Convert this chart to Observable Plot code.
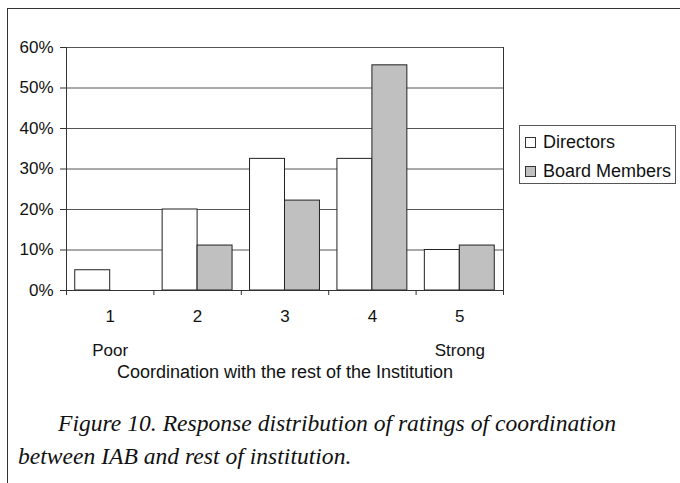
<!DOCTYPE html>
<html>
<head>
<meta charset="utf-8">
<script src="https://cdn.jsdelivr.net/npm/d3@7"></script>
<script src="https://cdn.jsdelivr.net/npm/@observablehq/plot@0.6"></script>
<style>
  html, body { margin: 0; padding: 0; background: #fff; }
  #wrap { position: relative; width: 680px; height: 483px; overflow: hidden; font-family: "Liberation Sans", Arial, sans-serif; color: #111; }
  #frame { position: absolute; left: 7px; top: 8px; width: 680px; height: 480px; border-left: 1px solid #333; border-top: 1px solid #333; }
  #chart { position: absolute; left: 0; top: 0; }
  #legend { position: absolute; left: 519px; top: 125px; width: 155px; height: 57px; border: 1px solid #555; background: #fff; font-size: 18px; }
  .row { position: absolute; left: 5px; height: 22px; line-height: 22px; white-space: nowrap; }
  .sw { display: inline-block; width: 9px; height: 9px; border: 1px solid #333; margin-right: 7px; vertical-align: 0px; }
  #caption { position: absolute; left: 0; top: 0; font-family: "Liberation Serif", "Times New Roman", serif; font-style: italic; font-size: 23.6px; color: #111; }
  .cap { position: absolute; white-space: nowrap; }
</style>
</head>
<body>
<div id="wrap">
  <div id="frame"></div>
  <div id="chart"></div>
  <div id="legend"></div>
  <div id="caption"></div>
</div>
<script>
// ---- data ----
const categories = [1, 2, 3, 4, 5];
const seriesNames = ["Directors", "Board Members"];
const seriesColors = ["#ffffff", "#c0c0c0"];
const directors = [5, 20, 32.5, 32.5, 10];
const boardMembers = [0, 11.1, 22.2, 55.6, 11.1];
const yTicks = [0, 10, 20, 30, 40, 50, 60];
const endCats = [1, 5];
const endLabels = ["Poor", "Strong"];
const xLabel = "Coordination with the rest of the Institution";
const captionLines = [
  "Figure 10. Response distribution of ratings of coordination",
  "between IAB and rest of institution."
];

// ---- build table ----
const seriesValues = [directors, boardMembers];
const rows = categories.flatMap((c, i) =>
  seriesNames.map((s, k) => ({ cat: c, series: s, k, value: seriesValues[k][i] }))
);
const bounds = [...categories.map(c => c - 0.5), categories[categories.length - 1] + 0.5];
const barW = 0.4; // bar width in category units

const chart = Plot.plot({
  width: 680,
  height: 400,
  marginLeft: 66,
  marginRight: 177,
  marginTop: 47,
  marginBottom: 110,
  style: { fontFamily: "'Liberation Sans', Arial, sans-serif", fontSize: "17px", color: "#111", background: "transparent" },
  x: { type: "linear", domain: [bounds[0], bounds[bounds.length - 1]] },
  y: { domain: [0, 60] },
  color: { domain: seriesNames, range: seriesColors },
  marks: [
    Plot.gridY(yTicks, { stroke: "#555", strokeOpacity: 1 }),
    Plot.rectY(rows, {
      x1: d => d.cat - barW + barW * d.k,
      x2: d => d.cat + barW * d.k,
      y: "value",
      fill: "series",
      stroke: "#222",
      strokeWidth: 1
    }),
    Plot.ruleX([bounds[0], bounds[bounds.length - 1]], { y1: 0, y2: 60, stroke: "#333" }),
    Plot.ruleY([0], { stroke: "#333" }),
    Plot.axisY(yTicks, { tickSize: 6, tickPadding: 7, tickFormat: d => d + "%", label: null, stroke: "#333", fontSize: 17 }),
    Plot.axisX(bounds, { tickSize: 5, tickFormat: () => "", label: null, stroke: "#333" }),
    Plot.axisX(categories, { tickSize: 0, tickPadding: 19, label: null, fontSize: 17 }),
    Plot.text(endLabels, { x: (d, i) => endCats[i], y: () => 0, dy: 60, lineAnchor: "middle", fontSize: 17 }),
    Plot.text([xLabel], { frameAnchor: "bottom", lineAnchor: "middle", dy: 82, fontSize: 18 })
  ]
});
document.getElementById("chart").appendChild(chart);

// ---- legend ----
const legend = document.getElementById("legend");
seriesNames.forEach((s, i) => {
  const row = document.createElement("div");
  row.className = "row";
  row.style.top = (5 + i * 29) + "px";
  const sw = document.createElement("span");
  sw.className = "sw";
  sw.style.background = seriesColors[i];
  row.appendChild(sw);
  row.appendChild(document.createTextNode(s));
  legend.appendChild(row);
});

// ---- caption ----
const cap = document.getElementById("caption");
const capPos = [[58, 410], [18, 443]];
captionLines.forEach((t, i) => {
  const d = document.createElement("div");
  d.className = "cap";
  d.style.left = capPos[i][0] + "px";
  d.style.top = capPos[i][1] + "px";
  d.textContent = t;
  cap.appendChild(d);
});
</script>
</body>
</html>
